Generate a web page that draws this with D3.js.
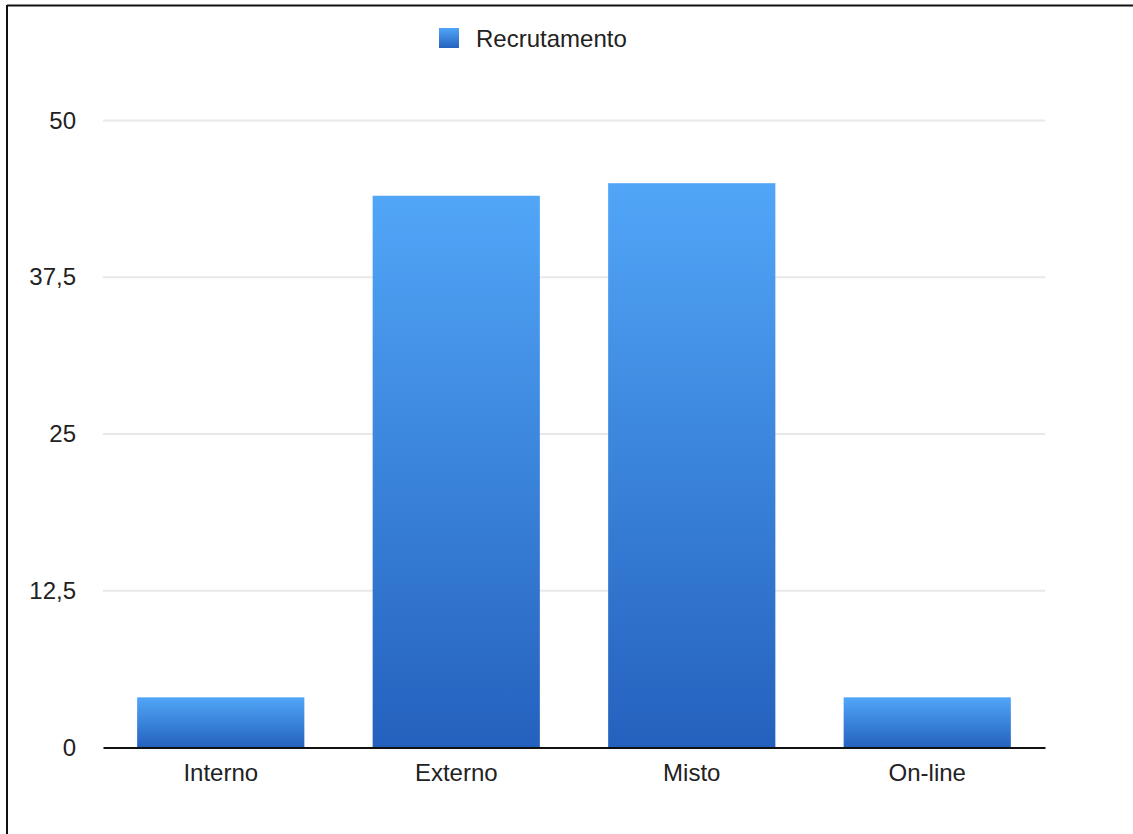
<!DOCTYPE html>
<html>
<head>
<meta charset="utf-8">
<script src="https://cdn.jsdelivr.net/npm/d3@7"></script>
<style>
  body { margin: 0; background: #fff; }
  text { font-family: "Liberation Sans", Arial, sans-serif; fill: #222; }
</style>
</head>
<body>
<div id="chart"></div>
<script>
// data
var categories = ["Interno", "Externo", "Misto", "On-line"];
var values = [4, 44, 45, 4];
var yTicks = [0, 12.5, 25, 37.5, 50];
var seriesName = "Recrutamento";

var svgWidth = 1133;
var svgHeight = 834;

var margin = { top: 120.5, right: 88, bottom: 86.5, left: 103 };
var width = svgWidth - margin.left - margin.right;
var height = svgHeight - margin.top - margin.bottom;

var svg = d3.select("#chart")
  .append("svg")
  .attr("width", svgWidth)
  .attr("height", svgHeight);

// bar gradient
var grad = svg.append("defs").append("linearGradient")
  .attr("id", "barGrad")
  .attr("x1", 0).attr("y1", 0).attr("x2", 0).attr("y2", 1);
grad.append("stop").attr("offset", "0%").attr("stop-color", "#51a6f8");
grad.append("stop").attr("offset", "100%").attr("stop-color", "#2461be");

// frame (top and left edge only)
svg.append("line")
  .attr("x1", 7).attr("y1", 5.5).attr("x2", svgWidth).attr("y2", 5.5)
  .attr("stroke", "#111").attr("stroke-width", 2);
svg.append("line")
  .attr("x1", 7).attr("y1", 5).attr("x2", 7).attr("y2", svgHeight)
  .attr("stroke", "#111").attr("stroke-width", 2);

var chartGroup = svg.append("g")
  .attr("transform", `translate(${margin.left}, ${margin.top})`);

var xBandScale = d3.scaleBand()
  .domain(categories)
  .range([0, width])
  .paddingInner(0.29)
  .paddingOuter(0.145);

var yLinearScale = d3.scaleLinear()
  .domain([0, 50])
  .range([height, 0]);

// gridlines
chartGroup.append("g")
  .selectAll("line")
  .data(yTicks.filter(d => d > 0))
  .enter()
  .append("line")
  .attr("x1", 0)
  .attr("x2", width)
  .attr("y1", d => yLinearScale(d))
  .attr("y2", d => yLinearScale(d))
  .attr("stroke", "#e8e8e8")
  .attr("stroke-width", 2);

// y axis labels
var leftAxis = d3.axisLeft(yLinearScale)
  .tickValues(yTicks)
  .tickSize(0)
  .tickPadding(27)
  .tickFormat(d => String(d).replace(".", ","));

var yAxis = chartGroup.append("g").call(leftAxis);
yAxis.select(".domain").remove();
yAxis.selectAll("text")
  .attr("font-size", 24)
  .attr("fill", "#222");

// bars
chartGroup.selectAll("rect.bar")
  .data(values)
  .enter()
  .append("rect")
  .attr("class", "bar")
  .attr("x", (d, i) => xBandScale(categories[i]))
  .attr("y", d => yLinearScale(d))
  .attr("width", xBandScale.bandwidth())
  .attr("height", d => height - yLinearScale(d))
  .attr("fill", "url(#barGrad)");

// x axis
var bottomAxis = d3.axisBottom(xBandScale)
  .tickSize(0)
  .tickPadding(16);

var xAxis = chartGroup.append("g")
  .attr("transform", `translate(0, ${height})`)
  .call(bottomAxis);
xAxis.select(".domain")
  .attr("stroke", "#111")
  .attr("stroke-width", 2);
xAxis.selectAll("text")
  .attr("font-size", 24)
  .attr("fill", "#222");

// legend
var legend = svg.append("g")
  .attr("transform", "translate(439, 28)");
legend.append("rect")
  .attr("width", 20)
  .attr("height", 20)
  .attr("fill", "url(#barGrad)");
legend.append("text")
  .attr("x", 37)
  .attr("y", 19)
  .attr("font-size", 24)
  .text(seriesName);
</script>
</body>
</html>
